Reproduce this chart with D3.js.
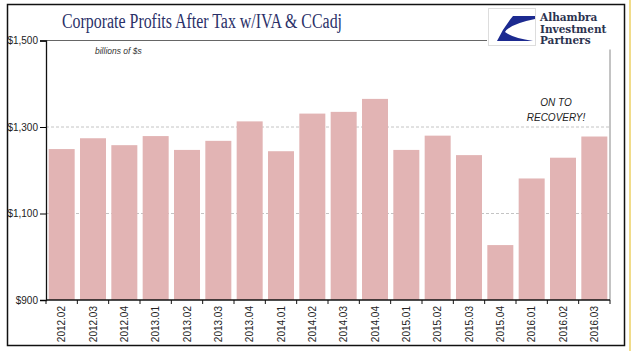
<!DOCTYPE html>
<html>
<head>
<meta charset="utf-8">
<script src="https://cdn.jsdelivr.net/npm/d3@7"></script>
<style>
  body { margin: 0; background: #fff; }
  svg { display: block; }
</style>
</head>
<body>
<div id="wrapper"></div>
<script>
// quarters and profits (billions of $)
const quarters = ["2012.02","2012.03","2012.04","2013.01","2013.02","2013.03","2013.04",
    "2014.01","2014.02","2014.03","2014.04","2015.01","2015.02","2015.03","2015.04",
    "2016.01","2016.02","2016.03"];
const profits = [1249, 1274, 1258, 1279, 1247, 1268, 1313, 1244, 1331, 1335, 1365,
    1247, 1280, 1235, 1027, 1181, 1229, 1278];
const yTicks = [900, 1100, 1300, 1500];
const gridTicks = [1100, 1300];

function drawChart() {
    const dimensions = {
        width: 640,
        height: 351,
        margin: { top: 40.5, right: 30, bottom: 51, left: 46 },
    }
    dimensions.boundedWidth = dimensions.width - dimensions.margin.left - dimensions.margin.right
    dimensions.boundedHeight = dimensions.height - dimensions.margin.top - dimensions.margin.bottom

    const wrapper = d3.select("#wrapper")
        .html("")
        .append("svg")
        .attr("width", dimensions.width)
        .attr("height", dimensions.height);

    // outer frame + yellow edge
    wrapper.append("rect")
        .attr("x", 7.5).attr("y", 4.5)
        .attr("width", 617).attr("height", 341)
        .attr("fill", "none").attr("stroke", "#111").attr("stroke-width", 1.5);
    wrapper.append("line")
        .attr("x1", 630).attr("x2", 630).attr("y1", 0).attr("y2", 351)
        .attr("stroke", "#f1dc8a").attr("stroke-width", 2);

    const bounds = wrapper.append("g")
        .attr("transform", `translate(${dimensions.margin.left},${dimensions.margin.top})`);

    const xScaler = d3.scaleBand()
        .domain(quarters)
        .range([0, dimensions.boundedWidth])
        .paddingInner(0.17)
        .paddingOuter(0.085);

    const yScaler = d3.scaleLinear()
        .domain([900, 1500])
        .range([dimensions.boundedHeight, 0]);

    // dashed gridlines
    bounds.append("g")
        .selectAll("line")
        .data(gridTicks)
        .enter()
        .append("line")
        .attr("x1", 0)
        .attr("x2", dimensions.boundedWidth)
        .attr("y1", d => yScaler(d))
        .attr("y2", d => yScaler(d))
        .attr("stroke", "#c4c4c4")
        .attr("stroke-dasharray", "3,2");

    // top and right border of the plot
    bounds.append("line")
        .attr("x1", 0).attr("x2", 441)
        .attr("y1", yScaler(1500)).attr("y2", yScaler(1500))
        .attr("stroke", "#666");
    bounds.append("line")
        .attr("x1", dimensions.boundedWidth).attr("x2", dimensions.boundedWidth)
        .attr("y1", 9).attr("y2", dimensions.boundedHeight)
        .attr("stroke", "#888");

    // bars
    bounds.append("g")
        .selectAll("rect")
        .data(quarters)
        .enter()
        .append("rect")
        .attr("x", d => xScaler(d))
        .attr("width", xScaler.bandwidth())
        .attr("y", (d, i) => yScaler(profits[i]))
        .attr("height", (d, i) => yScaler(900) - yScaler(profits[i]))
        .attr("fill", "#e2b4b4");

    // y axis
    const yAxisGen = d3.axisLeft(yScaler)
        .tickValues(yTicks)
        .tickSize(6)
        .tickPadding(2)
        .tickFormat(d => "$" + d3.format(",")(d));
    const yAxis = bounds.append("g").call(yAxisGen);
    yAxis.select(".domain").attr("stroke", "#111").attr("stroke-width", 1.3);
    yAxis.selectAll("text")
        .attr("font-family", "Liberation Sans, Arial, sans-serif")
        .attr("font-size", "10px")
        .attr("fill", "#222");

    // x axis with ticks on band edges
    const step = xScaler.step();
    const edges = quarters.map(d => xScaler(d) - step * xScaler.paddingInner() / 2)
        .concat([dimensions.boundedWidth]);
    const xAxis = bounds.append("g")
        .attr("transform", `translate(0,${dimensions.boundedHeight})`);
    xAxis.append("line")
        .attr("x1", 0).attr("x2", dimensions.boundedWidth)
        .attr("stroke", "#111").attr("stroke-width", 1.3);
    xAxis.selectAll(".edge")
        .data(edges)
        .enter()
        .append("line")
        .attr("class", "edge")
        .attr("x1", d => d).attr("x2", d => d)
        .attr("y1", 0).attr("y2", 4)
        .attr("stroke", "#111");
    xAxis.selectAll(".lbl")
        .data(quarters)
        .enter()
        .append("text")
        .attr("class", "lbl")
        .attr("transform", d => `translate(${xScaler(d) + xScaler.bandwidth() / 2 + 3.5},6) rotate(-90)`)
        .attr("text-anchor", "end")
        .attr("font-family", "Liberation Sans, Arial, sans-serif")
        .attr("font-size", "10px")
        .attr("fill", "#222")
        .text(d => d);

    // title
    wrapper.append("text")
        .attr("x", 62).attr("y", 28)
        .attr("font-family", "Liberation Serif, DejaVu Serif, serif")
        .attr("font-size", "20px")
        .attr("fill", "#2a3068")
        .attr("textLength", 280)
        .attr("lengthAdjust", "spacingAndGlyphs")
        .text("Corporate Profits After Tax w/IVA & CCadj");

    // annotations
    bounds.append("text")
        .attr("x", 49).attr("y", 13)
        .attr("font-family", "Liberation Sans, Arial, sans-serif")
        .attr("font-style", "italic")
        .attr("font-size", "8.5px")
        .attr("fill", "#333")
        .text("billions of $s");

    const recovery = bounds.append("text")
        .attr("text-anchor", "middle")
        .attr("font-family", "Liberation Sans, Arial, sans-serif")
        .attr("font-style", "italic")
        .attr("font-size", "10px")
        .attr("fill", "#222");
    recovery.append("tspan").attr("x", 510).attr("y", 65).text("ON TO");
    recovery.append("tspan").attr("x", 510).attr("y", 80).text("RECOVERY!");

    // logo
    const logo = wrapper.append("g");
    logo.append("rect")
        .attr("x", 488.5).attr("y", 8.5).attr("width", 47).attr("height", 37)
        .attr("fill", "#fff").attr("stroke", "#ddd");
    logo.append("path")
        .attr("d", "M513,16 L535,16 L535,19 Q510,24 505,32 Q512,38 533,41 L497,41 Q503,28 513,16 Z")
        .attr("fill", "#1c2a90");
    const logoText = logo.append("text")
        .attr("font-family", "DejaVu Serif, Liberation Serif, serif")
        .attr("font-size", "10.5px")
        .attr("font-weight", "bold")
        .attr("fill", "#2c3350");
    ["Alhambra", "Investment", "Partners"].forEach((t, i) => {
        logoText.append("tspan").attr("x", 540).attr("y", 21 + i * 11.5).text(t);
    });
}

drawChart();
</script>
</body>
</html>
